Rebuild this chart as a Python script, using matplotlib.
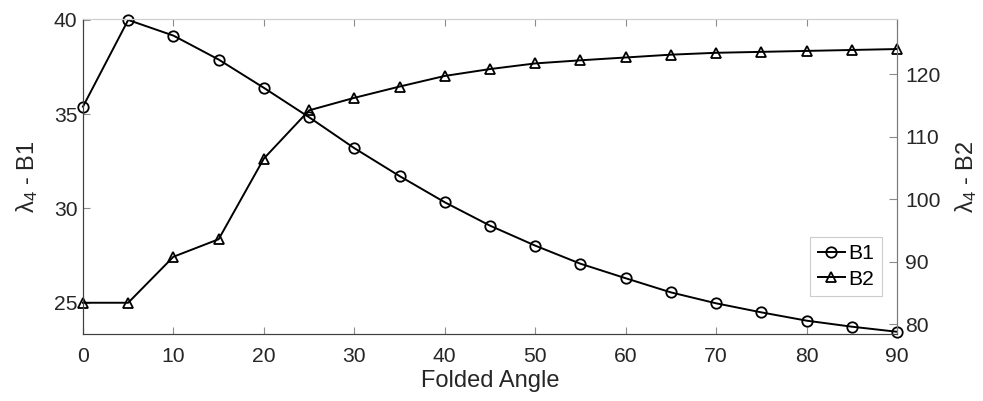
import numpy as np
import matplotlib.pyplot as plt

plt.rcParams['font.family'] = ['Liberation Sans', 'DejaVu Sans']
plt.rcParams['mathtext.fontset'] = 'custom'
plt.rcParams['mathtext.rm'] = 'Liberation Sans'
plt.rcParams['mathtext.it'] = 'Liberation Sans'

# data
angle = [0, 5, 10, 15, 20, 25, 30, 35, 40, 45, 50, 55, 60, 65, 70, 75, 80, 85, 90]
b1 = [35.4, 40.0, 39.17, 37.9, 36.4, 34.84, 33.2, 31.72, 30.33, 29.09, 28.03,
      27.07, 26.3, 25.55, 24.97, 24.49, 24.05, 23.73, 23.46]
b2 = [83.45, 83.45, 90.8, 93.6, 106.5, 114.2, 116.2, 118.0, 119.7, 120.8, 121.7,
      122.2, 122.65, 123.1, 123.4, 123.55, 123.7, 123.85, 124.0]
xticks = list(range(0, 91, 10))
left_ticks = [25, 30, 35, 40]
right_ticks = [80, 90, 100, 110, 120]

fs = 15.2
lfs = 17
dark = '#262626'

fig = plt.figure(figsize=(9.83, 4.01), dpi=100)
ax = fig.add_axes([0.0844, 0.167, 0.9125 - 0.0844, 0.9526 - 0.167])
ax2 = ax.twinx()

l1, = ax.plot(angle, b1, '-o', color='k', lw=1.4, ms=7.5, mfc='none', mew=1.3,
              clip_on=False, label='B1')
l2, = ax2.plot(angle, b2, '-^', color='k', lw=1.4, ms=7.5, mfc='none', mew=1.3,
               clip_on=False, label='B2')

ax.set_xlim(0, 90)
ax.set_ylim(23.34, 40.05)
ax2.set_ylim(78.45, 128.8)
ax.set_xticks(xticks)
ax.set_yticks(left_ticks)
ax2.set_yticks(right_ticks)

ax.tick_params(axis='x', direction='in', top=True, length=5, width=0.8,
               color='#8c8c8c', labelsize=fs, labelcolor=dark, pad=9)
ax.tick_params(axis='y', direction='in', length=5, width=0.8,
               color='#8c8c8c', labelsize=fs, labelcolor=dark, pad=4)
ax2.tick_params(axis='y', direction='in', length=6, width=0.8,
                color='#8c8c8c', labelsize=fs, labelcolor=dark, pad=6)

for a in (ax, ax2):
    a.spines['left'].set_color('#404040')
    a.spines['bottom'].set_color('#404040')
    a.spines['top'].set_color('#cfcfcf')
    a.spines['right'].set_color('#7a7a7a')

ax.set_xlabel('Folded Angle', fontsize=lfs, color=dark, labelpad=3)
ax.set_ylabel('λ$_4$ - B1', fontsize=lfs, color=dark, labelpad=10)
ax2.set_ylabel('λ$_4$ - B2', fontsize=lfs, color=dark, labelpad=9)

leg = ax2.legend([l1, l2], ['B1', 'B2'], loc='lower right',
                 bbox_to_anchor=(0.981, 0.121), fontsize=fs, frameon=True,
                 fancybox=False, framealpha=1, edgecolor='#cccccc',
                 handlelength=1.3, handletextpad=0.15, borderpad=0.35,
                 labelspacing=0.3, borderaxespad=0)
leg.get_frame().set_linewidth(0.8)

fig.savefig('out.png', dpi=100)
